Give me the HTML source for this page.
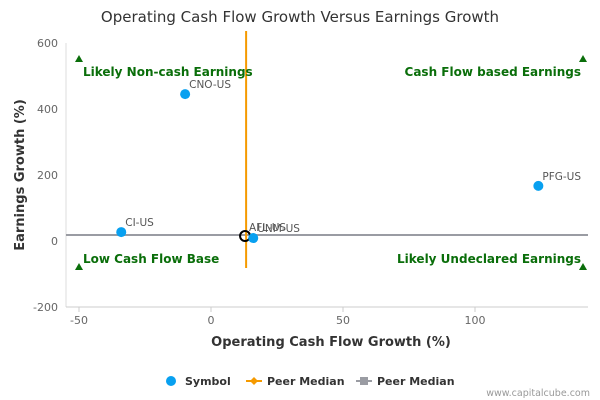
<!DOCTYPE html>
<html><head><meta charset="utf-8"><style>
body{margin:0;width:600px;height:400px;background:#fff;font-family:"DejaVu Sans","Liberation Sans",sans-serif;overflow:hidden}
svg text{font-family:"DejaVu Sans","Liberation Sans",sans-serif}
</style></head><body>
<svg id="c" width="600" height="400" style="position:absolute;left:0;top:0">
<text x="300" y="22" text-anchor="middle" font-size="15" fill="#333" font-weight="500">Operating Cash Flow Growth Versus Earnings Growth</text>
<g id="grid"></g>
<g id="marks"></g>
<text x="24" y="175" transform="rotate(-90 24 175)" text-anchor="middle" font-size="13" font-weight="bold" fill="#333">Earnings Growth (%)</text>
<text x="331" y="346" text-anchor="middle" font-size="13" font-weight="bold" fill="#333">Operating Cash Flow Growth (%)</text>
<g font-size="11" font-weight="bold" fill="#333">
<g><circle cx="171" cy="381" r="5" fill="#08a0f0"/><text x="185" y="385">Symbol</text></g>
<g><line x1="246" y1="381" x2="262" y2="381" stroke="#f59a00" stroke-width="2"/><path d="M254 377 L258 381 L254 385 L250 381Z" fill="#f59a00"/><text x="267" y="385">Peer Median</text></g>
<g><line x1="356" y1="381" x2="372" y2="381" stroke="#9a9ca3" stroke-width="2"/><rect x="360" y="377" width="8" height="8" fill="#9a9ca3"/><text x="377" y="385">Peer Median</text></g>
</g>
<text x="590" y="396" text-anchor="end" font-size="9.5" fill="#999">www.capitalcube.com</text>
</svg>
<script>
const labels=["CNO-US","CI-US","PFG-US","UNM-US"];
const xs=[-9.8,-34,124,16];
const ys=[445,27,167,9];
const aflX=[12.9]; const aflY=[15];
const medianX=[13.3]; const medianY=[18];
const xTicks=[-50,0,50,100]; const yTicks=[600,400,200,0,-200];
const quadrants=["Likely Non-cash Earnings","Cash Flow based Earnings","Low Cash Flow Base","Likely Undeclared Earnings"];
const X=v=>211+v*2.64, Y=v=>241-v*0.33;
const ns="http://www.w3.org/2000/svg";
function mk(t,a,p){const e=document.createElementNS(ns,t);for(const k in a)e.setAttribute(k,a[k]);p.appendChild(e);return e;}
const g=document.getElementById('grid'), m=document.getElementById('marks');
let ax=mk('line',{x1:66,y1:43,x2:66,y2:307,stroke:'#ddd'},g);


let bx=mk('line',{x1:66,y1:307,x2:588,y2:307,stroke:'#ccc'},g);


xTicks.forEach(v=>{const t=mk('text',{x:X(v),y:324,'text-anchor':'middle','font-size':11,fill:'#666'},g);t.textContent=v;


mk('line',{x1:X(v),y1:307,x2:X(v),y2:312,stroke:'#ccc'},g);});
yTicks.forEach(v=>{const t=mk('text',{x:58,y:Y(v)+4,'text-anchor':'end','font-size':11,fill:'#666'},g);t.textContent=v;

});
let hl=mk('line',{x1:66,y1:Y(medianY[0]),x2:588,y2:Y(medianY[0]),stroke:'#9a9ca3','stroke-width':2},m);


let vl=mk('line',{x1:X(medianX[0]),y1:31,x2:X(medianX[0]),y2:268,stroke:'#f59a00','stroke-width':2},m);


const qp=[[83,76,'start'],[581,76,'end'],[83,263,'start'],[581,263,'end']];
quadrants.forEach((q,i)=>{const t=mk('text',{x:qp[i][0],y:qp[i][1],'text-anchor':qp[i][2],'font-size':12,'font-weight':'bold',fill:'#0a6e0a'},m);t.textContent=q;

});
[[79,59],[583,59],[79,267],[583,267]].forEach(p=>{const tr=mk('path',{d:`M${p[0]} ${p[1]-4}L${p[0]+4} ${p[1]+3}L${p[0]-4} ${p[1]+3}Z`,fill:'#0a6e0a'},m);

});
const a=mk('circle',{cx:X(aflX[0]),cy:Y(aflY[0]),r:5,fill:'none',stroke:'#000','stroke-width':2},m);


const at=mk('text',{x:X(aflX[0])+4,y:Y(aflY[0])-5,'font-size':10.5,fill:'#555'},m);at.textContent="AFL-US";


labels.forEach((l,i)=>{const c=mk('circle',{cx:X(xs[i]),cy:Y(ys[i]),r:5,fill:'#08a0f0'},m);


const t=mk('text',{x:X(xs[i])+4,y:Y(ys[i])-6,'font-size':10.5,fill:'#555'},m);t.textContent=l;

});
</script>
</body></html>
